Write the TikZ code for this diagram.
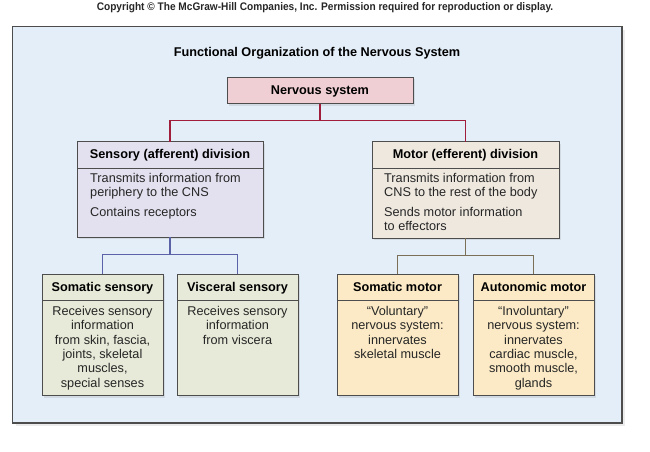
\documentclass[tikz,border=0pt]{standalone}
\usepackage{fontspec}
\setmainfont{Liberation Sans}
\usetikzlibrary{positioning, shadows}

\definecolor{panelfill}{HTML}{E4EEF8}
\definecolor{boxline}{HTML}{4D4D4D}
\definecolor{nsfill}{HTML}{EFCFD4}
\definecolor{nsline}{HTML}{A01E3C}
\definecolor{sensfill}{HTML}{E3E1EF}
\definecolor{sensline}{HTML}{5B62A6}
\definecolor{motfill}{HTML}{EEE8DF}
\definecolor{motline}{HTML}{7B6F58}
\definecolor{subsensfill}{HTML}{E7EAD8}
\definecolor{submotfill}{HTML}{FBEAC5}

\begin{document}
\begin{tikzpicture}[
    x=1pt, y=-1pt,
    font=\fontsize{12.7}{14}\selectfont,
    shade/.style={drop shadow={opacity=0.18, shadow xshift=2pt, shadow yshift=-2pt}},
    headbox/.style={draw=boxline, line width=0.9pt, rectangle, shade, inner sep=0pt,
      outer sep=0pt, minimum height=26.5pt, text height=9.2pt, text depth=2.2pt,
      font=\fontsize{12.7}{14}\selectfont\bfseries},
    bodybox/.style={draw=boxline, line width=0.9pt, rectangle, shade, inner sep=0pt,
      outer sep=0pt},
    maintext/.style={align=left, inner sep=0pt, anchor=north west, text=black!85},
    subtext/.style={align=center, inner sep=0pt, anchor=north, text=black!85,
      font=\fontsize{12.7}{14.3}\selectfont},
    link/.style={line width=1.3pt}
]
\useasboundingbox (0,0) rectangle (650,451);

% Panel and titles
\filldraw[fill=panelfill, draw=boxline, line width=1.3pt,
  drop shadow={opacity=0.15, shadow xshift=3pt, shadow yshift=-3pt}]
  (12.5,26.5) rectangle (622,423);
\node[font=\fontsize{11}{12}\selectfont\bfseries, text=black!85] (copyright) at (325,8)
  {\scalebox{0.92}[1]{Copyright \textcopyright{} The McGraw-Hill Companies, Inc. Permission required for reproduction or display.}};
\node[font=\fontsize{12.7}{14}\selectfont\bfseries] (title) at (317,53)
  {Functional Organization of the Nervous System};

% Top level
\node[headbox, fill=nsfill, minimum width=186pt] (ns) at (320,90.5) {Nervous system};

% Divisions
\node[headbox, fill=sensfill, minimum width=186pt] (sens) at (170,155) {Sensory (afferent) division};
\node[bodybox, fill=sensfill, minimum width=186pt, minimum height=69pt, below=0pt of sens] (sensbody) {};
\node[maintext] (senstext) at ([xshift=13pt, yshift=-5pt]sensbody.north west)
  {Transmits information from\\periphery to the CNS\\[5.5pt]Contains receptors};

\node[headbox, fill=motfill, minimum width=187pt] (mot) at (465.5,155) {Motor (efferent) division};
\node[bodybox, fill=motfill, minimum width=187pt, minimum height=70pt, below=0pt of mot] (motbody) {};
\node[maintext] (mottext) at ([xshift=12pt, yshift=-5pt]motbody.north west)
  {Transmits information from\\CNS to the rest of the body\\[5.5pt]Sends motor information\\to effectors};

% Subdivisions
\node[headbox, fill=subsensfill, minimum width=121pt] (somsens) at (102.5,287.5) {Somatic sensory};
\node[bodybox, fill=subsensfill, minimum width=121pt, minimum height=95pt, below=0pt of somsens] (somsensbody) {};
\node[subtext] (somsenstext) at ([yshift=-5.5pt]somsensbody.north)
  {Receives sensory\\information\\from skin, fascia,\\joints, skeletal\\muscles,\\special senses};

\node[headbox, fill=subsensfill, minimum width=121pt] (vissens) at (237.5,287.5) {Visceral sensory};
\node[bodybox, fill=subsensfill, minimum width=121pt, minimum height=95pt, below=0pt of vissens] (vissensbody) {};
\node[subtext] (vissenstext) at ([yshift=-5.5pt]vissensbody.north)
  {Receives sensory\\information\\from viscera};

\node[headbox, fill=submotfill, minimum width=121pt] (sommot) at (397.5,287.5) {Somatic motor};
\node[bodybox, fill=submotfill, minimum width=121pt, minimum height=95pt, below=0pt of sommot] (sommotbody) {};
\node[subtext] (sommottext) at ([yshift=-5.5pt]sommotbody.north)
  {“Voluntary”\\nervous system:\\innervates\\skeletal muscle};

\node[headbox, fill=submotfill, minimum width=121pt] (automot) at (533.5,287.5) {Autonomic motor};
\node[bodybox, fill=submotfill, minimum width=121pt, minimum height=95pt, below=0pt of automot] (automotbody) {};
\node[subtext] (automottext) at ([yshift=-5.5pt]automotbody.north)
  {“Involuntary”\\nervous system:\\innervates\\cardiac muscle,\\smooth muscle,\\glands};

% Connectors
\draw[link, nsline] (ns.south) -- ++(0,17) coordinate (nsjoin);
\draw[link, nsline] (nsjoin) -| (sens.north);
\draw[link, nsline] (nsjoin) -| (mot.north);

\draw[link, sensline] (sensbody.south) -- ++(0,17) coordinate (sensjoin);
\draw[link, sensline] (sensjoin) -| (somsens.north);
\draw[link, sensline] (sensjoin) -| (vissens.north);

\draw[link, motline] (motbody.south) -- ++(0,17) coordinate (motjoin);
\draw[link, motline] (motjoin) -| (sommot.north);
\draw[link, motline] (motjoin) -| (automot.north);

\end{tikzpicture}
\end{document}
